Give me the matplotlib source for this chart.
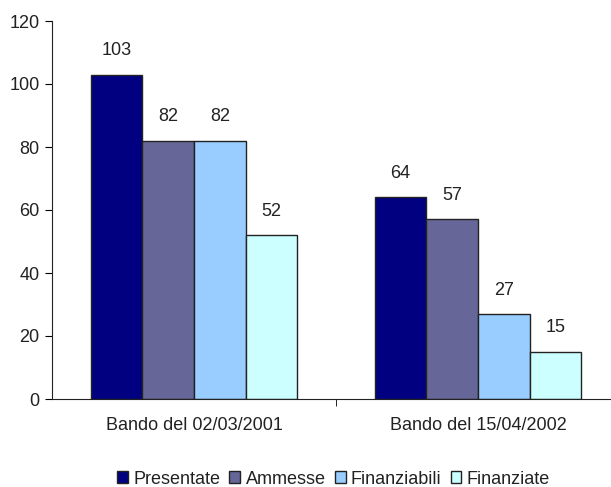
import numpy as np
import matplotlib.pyplot as plt

plt.rcParams['font.family'] = ['Liberation Sans', 'DejaVu Sans']

categories = ['Bando del 02/03/2001', 'Bando del 15/04/2002']
series = ['Presentate', 'Ammesse', 'Finanziabili', 'Finanziate']
values = [
    [103, 64],
    [82, 57],
    [82, 27],
    [52, 15],
]
colors = ['#000080', '#666699', '#99CCFF', '#CCFFFF']

fig = plt.figure(figsize=(6.11, 4.87), dpi=100)
ax = fig.add_axes([52 / 611, 88 / 487, 1 - 52 / 611, 378 / 487])

x = np.arange(len(categories))
w = 0.182
for i, (name, vals) in enumerate(zip(series, values)):
    bars = ax.bar(x + (i - 1.5) * w, vals, w, color=colors[i],
                  edgecolor='#222222', linewidth=1, label=name)
    ax.bar_label(bars, padding=11, fontsize=13, color='#222222')

ax.set_ylim(0, 120)
ax.set_yticks(range(0, 121, 20))
ax.set_xlim(-0.5, -0.5 + 559 / 284)

ax.set_xticks(x)
ax.set_xticklabels(categories, fontsize=13, color='#222222')
ax.tick_params(axis='x', length=0, pad=13)
ax.set_xticks([0.5], minor=True)
ax.tick_params(axis='x', which='minor', length=5, direction='out')
ax.tick_params(axis='y', length=5, direction='out', labelsize=13, pad=4,
               labelcolor='#222222')

for s in ['top', 'right']:
    ax.spines[s].set_visible(False)
for s in ['left', 'bottom']:
    ax.spines[s].set_color('#222222')

leg = fig.legend(loc='center', bbox_to_anchor=(0.546, 8 / 487), ncol=4,
                 frameon=False, fontsize=13, handlelength=0.6, handleheight=0.6,
                 handletextpad=0.3, columnspacing=0.5, borderpad=0)
for t in leg.get_texts():
    t.set_color('#222222')

fig.savefig('out.png', dpi=100)
